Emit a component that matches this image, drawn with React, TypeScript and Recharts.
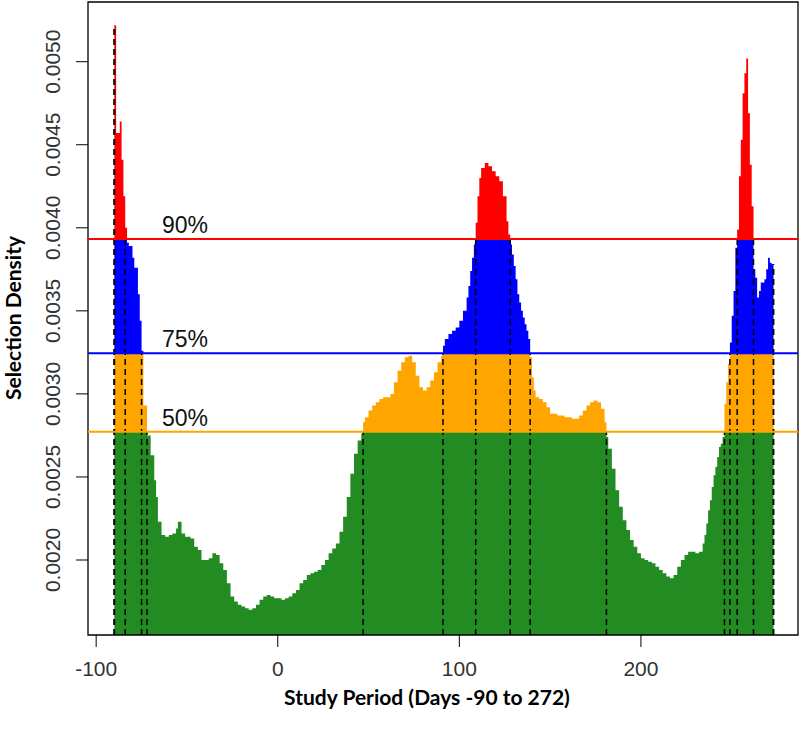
import { ComposedChart, Area, XAxis, YAxis, ReferenceLine, ReferenceArea, Label } from 'recharts'

// day at which each bar starts, and its selection density (bar runs to the next day)
const DAYS = [
  -90, -89, -87, -86, -85, -84, -83, -82, -80, -79,
  -77, -76, -75, -74, -72, -70, -68, -67, -66, -64,
  -62, -60, -58, -56, -55, -53, -51, -48, -46, -44,
  -42, -40, -38, -36, -34, -32, -30, -28, -26, -24,
  -22, -20, -18, -16, -14, -12, -10, -8, -6, -4,
  -2, 0, 2, 4, 6, 8, 10, 12, 14, 16,
  18, 20, 22, 24, 26, 28, 30, 32, 34, 36,
  38, 40, 42, 44, 46, 47, 48, 50, 52, 54,
  56, 58, 60, 62, 64, 66, 68, 70, 72, 74,
  76, 78, 80, 82, 84, 86, 88, 90, 91, 92,
  94, 96, 98, 100, 102, 104, 105, 106, 107, 108,
  109, 110, 111, 112, 114, 116, 118, 120, 122, 124,
  126, 127, 128, 129, 130, 131, 132, 133, 134, 135,
  136, 137, 138, 139, 140, 141, 142, 144, 146, 148,
  150, 152, 154, 156, 158, 160, 162, 164, 166, 168,
  170, 172, 174, 176, 178, 180, 181, 182, 184, 186,
  188, 190, 192, 194, 196, 198, 200, 202, 204, 206,
  208, 210, 212, 214, 216, 218, 220, 222, 224, 226,
  228, 230, 232, 234, 235, 236, 237, 238, 239, 240,
  241, 242, 243, 244, 245, 246, 247, 248, 249, 250,
  251, 252, 253, 254, 255, 256, 257, 258, 259, 260,
  261, 262, 263, 264, 265, 266, 268, 269, 270, 271,
  272
]
const DENSITY = [
  0.00522, 0.00457, 0.00464, 0.00441, 0.00419, 0.004, 0.00391, 0.00389, 0.00382, 0.00376,
  0.0036, 0.00344, 0.00326, 0.00293, 0.00275, 0.00263, 0.00248, 0.00238, 0.00223, 0.00215,
  0.00214, 0.00215, 0.00216, 0.00219, 0.00223, 0.00216, 0.00214, 0.00213, 0.00208, 0.00206,
  0.002, 0.002, 0.00201, 0.00204, 0.00203, 0.00198, 0.00194, 0.00186, 0.00178, 0.00175,
  0.00173, 0.00172, 0.00171, 0.0017, 0.00171, 0.00173, 0.00176, 0.00178, 0.00179, 0.00178,
  0.00177, 0.00177, 0.00176, 0.00177, 0.00178, 0.0018, 0.00182, 0.00186, 0.00188, 0.00191,
  0.00192, 0.00193, 0.00194, 0.00197, 0.002, 0.00204, 0.00207, 0.0021, 0.00217, 0.00226,
  0.00238, 0.00252, 0.00264, 0.00272, 0.00276, 0.00283, 0.00286, 0.0029, 0.00293, 0.00295,
  0.00297, 0.00298, 0.00298, 0.003, 0.00307, 0.00314, 0.00319, 0.00322, 0.00323, 0.00319,
  0.00311, 0.00304, 0.00302, 0.00304, 0.00308, 0.00313, 0.00319, 0.00323, 0.00329, 0.00333,
  0.00336, 0.00338, 0.0034, 0.00344, 0.0035, 0.00358, 0.00365, 0.00374, 0.00382, 0.0039,
  0.00403, 0.00419, 0.0043, 0.00436, 0.00439, 0.00437, 0.00434, 0.00431, 0.00428, 0.00419,
  0.00404, 0.00396, 0.0039, 0.00384, 0.00377, 0.00369, 0.0036, 0.00355, 0.0035, 0.00346,
  0.00342, 0.00338, 0.00333, 0.00322, 0.0031, 0.00302, 0.00298, 0.00297, 0.00295, 0.00292,
  0.00288, 0.00288, 0.00287, 0.00287, 0.00286, 0.00286, 0.00285, 0.00285, 0.00287, 0.0029,
  0.00293, 0.00295, 0.00296, 0.00295, 0.00291, 0.00283, 0.00274, 0.00267, 0.00255, 0.00242,
  0.00232, 0.00224, 0.00218, 0.00212, 0.00208, 0.00204, 0.00201, 0.002, 0.00199, 0.00198,
  0.00196, 0.00194, 0.00192, 0.0019, 0.00189, 0.00191, 0.00196, 0.002, 0.00203, 0.00205,
  0.00205, 0.00204, 0.00205, 0.0021, 0.00215, 0.00222, 0.0023, 0.00236, 0.00244, 0.00251,
  0.00256, 0.00262, 0.00268, 0.0027, 0.00274, 0.00294, 0.00307, 0.00318, 0.00331, 0.00347,
  0.00362, 0.00388, 0.00399, 0.00431, 0.00453, 0.00481, 0.00493, 0.00502, 0.00469, 0.00438,
  0.00413, 0.00375, 0.0037, 0.00358, 0.00362, 0.00367, 0.00369, 0.00375, 0.00382, 0.00379,
  0.00378
]
const END_DAY = 273

// density cut-offs for the 50/75/90% regions
const LEVEL_NAMES = ['50%', '75%', '90%']
const LEVEL_VALUES = [0.002772, 0.003244, 0.003933]
const LEVEL_COLORS = ['#FFA500', '#0000FF', '#FF0000']

// interval edges (days) of each region
const BOUNDS_50 = [-90, -72, 47, 181, 246, 273]
const BOUNDS_75 = [-90, -75, 91, 139, 249, 273]
const BOUNDS_90 = [-90, -84, 109, 128, 253, 262]

const X_TICKS = [-100, 0, 100, 200]
const Y_TICKS = [0.002, 0.0025, 0.003, 0.0035, 0.004, 0.0045, 0.005]
const X_DOMAIN = [-104.5, 286.5]
const Y_DOMAIN = [0.0015485, 0.0053594]

const [T50, T75, T90] = LEVEL_VALUES
const clamp = (v: number, lo: number, hi: number) => Math.max(lo, Math.min(hi, v))

const toRow = (day: number, v: number) => ({
  day,
  green: Math.min(v, T50),
  orange: clamp(v - T50, 0, T75 - T50),
  blue: clamp(v - T75, 0, T90 - T75),
  red: Math.max(v - T90, 0)
})

const data = DAYS.map((d, i) => toRow(d, DENSITY[i]))
data.push(toRow(END_DAY, DENSITY[DENSITY.length - 1]))

function densityAt(day: number): number {
  let idx = 0
  for (let i = 0; i < DAYS.length; i++) if (DAYS[i] <= day) idx = i
  return DENSITY[idx]
}

const segments: { x: number; top: number }[] = []
;[BOUNDS_50, BOUNDS_75, BOUNDS_90].forEach((bounds, li) => {
  for (const b of bounds) {
    let top = LEVEL_VALUES[li]
    if (b === DAYS[0]) top = densityAt(b)
    if (b >= END_DAY) top = DENSITY[DENSITY.length - 1]
    segments.push({ x: b, top })
  }
})

const TICK_FONT = '"Liberation Sans", Arial, sans-serif'
const TITLE_FONT = 'Lato, "Open Sans", sans-serif'

const YTick = ({ x, y, payload }: any) => (
  <text
    transform={`translate(${x - 14},${y}) rotate(-90)`}
    textAnchor="middle"
    fontSize={21}
    fill="#333"
    fontFamily={TICK_FONT}
  >
    {payload.value.toFixed(4)}
  </text>
)

const XTick = ({ x, y, payload }: any) => (
  <text x={x} y={y + 27} textAnchor="middle" fontSize={21} fill="#333" fontFamily={TICK_FONT}>
    {String(payload.value)}
  </text>
)

function App(): JSX.Element {
  return (
    <div style={{ position: 'absolute', left: 0, top: 0, background: '#fff' }}>
      <ComposedChart width={800} height={732} data={data} margin={{ top: 2, right: 2, left: 0, bottom: 17 }}>
        <XAxis
          dataKey="day"
          type="number"
          domain={X_DOMAIN}
          allowDataOverflow
          ticks={X_TICKS}
          tick={<XTick />}
          tickSize={12}
          tickLine={{ stroke: '#000' }}
          axisLine={false}
          height={80}
          label={
            <Label
              content={() => (
                <text x={427} y={705} textAnchor="middle" fontSize={21} fontWeight="bold" fill="#000" fontFamily={TITLE_FONT}>
                  Study Period (Days -90 to 272)
                </text>
              )}
            />
          }
        />
        <YAxis
          type="number"
          domain={Y_DOMAIN}
          allowDataOverflow
          ticks={Y_TICKS}
          tick={<YTick />}
          tickSize={12}
          tickLine={{ stroke: '#000' }}
          axisLine={false}
          width={88}
          label={
            <Label
              content={() => (
                <text
                  transform="translate(21,318) rotate(-90)"
                  textAnchor="middle"
                  fontSize={21}
                  fontWeight="bold"
                  fill="#000"
                  fontFamily={TITLE_FONT}
                >
                  Selection Density
                </text>
              )}
            />
          }
        />
        <Area type="stepAfter" dataKey="green" stackId="d" stroke="none" fill="#228B22" fillOpacity={1} isAnimationActive={false} dot={false} activeDot={false} />
        <Area type="stepAfter" dataKey="orange" stackId="d" stroke="none" fill="#FFA500" fillOpacity={1} isAnimationActive={false} dot={false} activeDot={false} />
        <Area type="stepAfter" dataKey="blue" stackId="d" stroke="none" fill="#0000FF" fillOpacity={1} isAnimationActive={false} dot={false} activeDot={false} />
        <Area type="stepAfter" dataKey="red" stackId="d" stroke="none" fill="#FF0000" fillOpacity={1} isAnimationActive={false} dot={false} activeDot={false} />
        {segments.map((s, i) => (
          <ReferenceLine
            key={`seg-${i}`}
            segment={[
              { x: s.x, y: Y_DOMAIN[0] },
              { x: s.x, y: s.top }
            ]}
            stroke="#000"
            strokeWidth={1.5}
            strokeDasharray="6 4"
          />
        ))}
        {LEVEL_VALUES.map((v, i) => (
          <ReferenceLine
            key={`lvl-${i}`}
            y={v}
            stroke={LEVEL_COLORS[i]}
            strokeWidth={2}
            label={
              <Label
                content={({ viewBox }: any) => (
                  <text x={viewBox.x + 74} y={viewBox.y - 6} fontSize={23} fill="#111" fontFamily={TICK_FONT}>
                    {LEVEL_NAMES[i]}
                  </text>
                )}
              />
            }
          />
        ))}
        <ReferenceArea
          x1={X_DOMAIN[0]}
          x2={X_DOMAIN[1]}
          y1={Y_DOMAIN[0]}
          y2={Y_DOMAIN[1]}
          fill="none"
          fillOpacity={0}
          stroke="#000"
          strokeWidth={1.3}
        />
      </ComposedChart>
    </div>
  )
}

export default App
